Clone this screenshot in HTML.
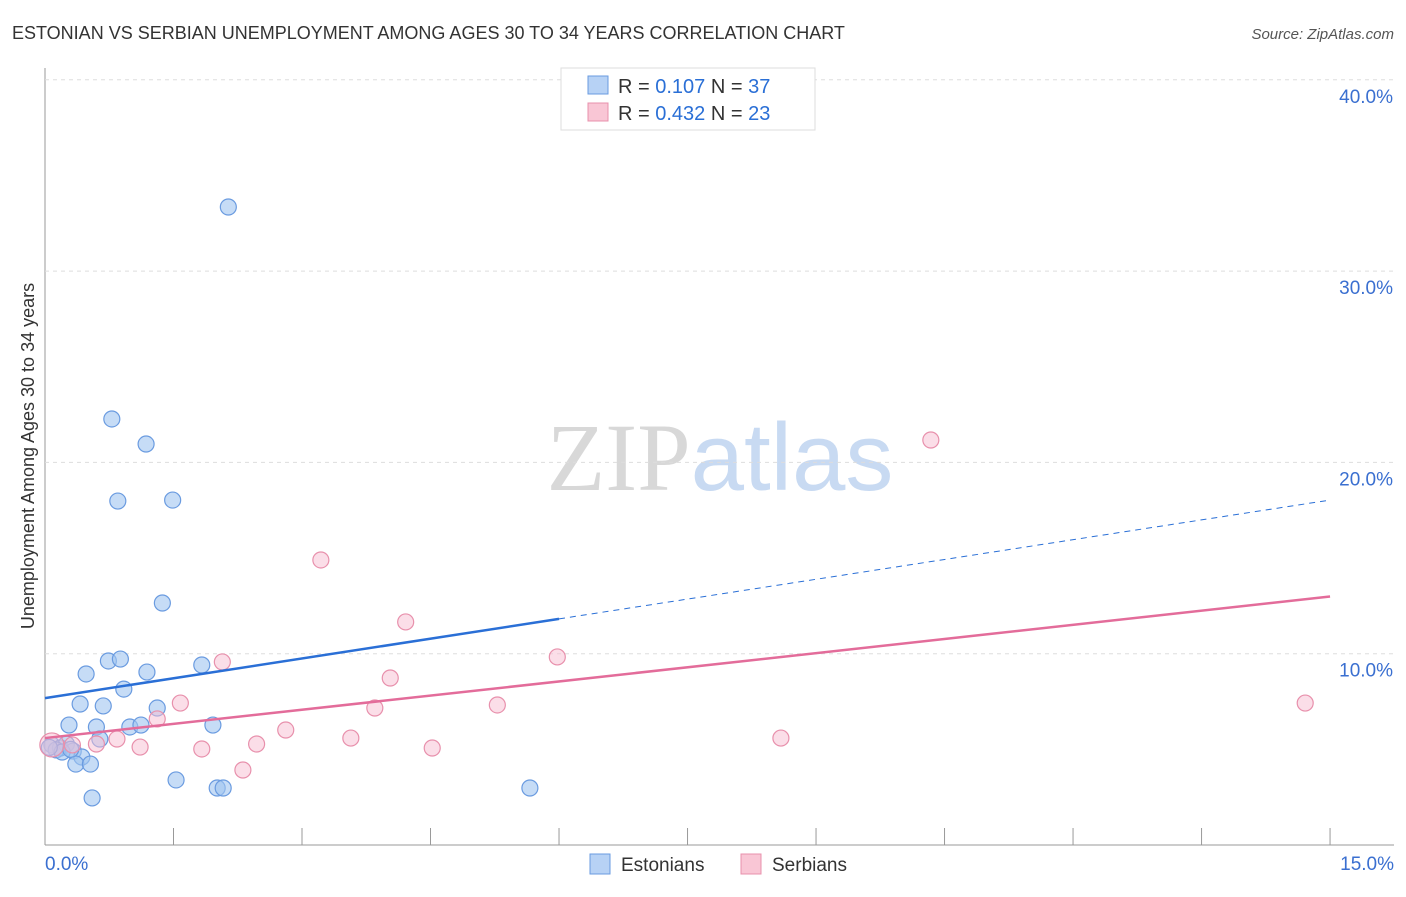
<!DOCTYPE html>
<html><head><meta charset="utf-8"><style>
body{margin:0;background:#fff;font-family:"Liberation Sans",sans-serif;}
svg text{font-family:"Liberation Sans",sans-serif;}
</style></head><body>
<svg width="1406" height="892" viewBox="0 0 1406 892" id="chart">
<text x="12" y="39" font-size="18" fill="#333">ESTONIAN VS SERBIAN UNEMPLOYMENT AMONG AGES 30 TO 34 YEARS CORRELATION CHART</text>
<text x="1394" y="39" font-size="15" fill="#555" text-anchor="end" font-style="italic">Source: ZipAtlas.com</text>
<text x="720" y="490" font-size="96" text-anchor="middle"><tspan fill="#d8d8d8" font-family="Liberation Serif">ZIP</tspan><tspan fill="#c8daf2">atlas</tspan></text>
<text transform="translate(34,456) rotate(-90)" font-size="18" fill="#333" text-anchor="middle">Unemployment Among Ages 30 to 34 years</text>
<g id="grid"></g><g id="marks"></g>
<g>
<rect x="561" y="68" width="254" height="62" fill="#fff" stroke="#ddd"/>
<rect x="588" y="76" width="20" height="18" fill="#b7d2f5" stroke="#6a9be0"/>
<text x="618" y="93" font-size="20" fill="#333">R = <tspan fill="#2a6fd6">0.107</tspan>   N = <tspan fill="#2a6fd6">37</tspan></text>
<rect x="588" y="103" width="20" height="18" fill="#f9c6d5" stroke="#e890ac"/>
<text x="618" y="120" font-size="20" fill="#333">R = <tspan fill="#2a6fd6">0.432</tspan>   N = <tspan fill="#2a6fd6">23</tspan></text>
</g>
<g>
<rect x="590" y="854" width="20" height="20" fill="#b7d2f5" stroke="#6a9be0"/>
<text x="621" y="871" font-size="19" fill="#333">Estonians</text>
<rect x="741" y="854" width="20" height="20" fill="#f9c6d5" stroke="#e890ac"/>
<text x="772" y="871" font-size="19" fill="#333">Serbians</text>
</g>
</svg>
<script>
const xTicks=[0,1.5,3,4.5,6,7.5,9,10.5,12,13.5,15];
const yTicks=[10,20,30,40];
const estX=[2.14,0.78,1.18,0.85,1.49,1.37,0.48,0.74,0.88,1.19,1.83,0.92,0.41,0.68,1.31,0.28,0.60,0.99,1.12,1.96,0.64,0.08,0.18,0.25,0.13,0.33,0.43,0.36,0.53,0.55,1.53,2.01,2.08,5.66,0.20,0.05,0.30];
const estY=[33.35,22.27,20.96,17.98,18.03,12.65,8.94,9.62,9.72,9.04,9.41,8.15,7.37,7.27,7.16,6.27,6.17,6.17,6.27,6.27,5.54,5.23,5.07,5.28,4.97,4.91,4.60,4.23,4.23,2.46,3.40,2.98,2.98,2.98,4.86,5.10,5.00];
const serX=[10.34,3.22,4.21,5.98,2.07,4.03,1.58,3.85,5.28,1.31,2.81,0.84,0.60,1.11,2.47,3.57,1.83,4.52,2.31,8.59,14.71,0.08,0.32];
const serY=[21.17,14.90,11.66,9.83,9.57,8.73,7.42,7.16,7.32,6.59,6.01,5.54,5.28,5.12,5.28,5.59,5.02,5.07,3.92,5.59,7.42,5.23,5.23];
const estTrend=[7.68,18.03];const serTrend=[5.59,12.99];
const xs=v=>45+v*85.67, ys=v=>845-v*19.13;
const NS="http://www.w3.org/2000/svg";
function mk(t,a,p){const e=document.createElementNS(NS,t);for(const k in a)e.setAttribute(k,a[k]);p.appendChild(e);return e;}
const g=document.getElementById('grid'),m=document.getElementById('marks');
let ax=mk('line',{x1:45,y1:68,x2:45,y2:845,stroke:'#999'},g);

let bx=mk('line',{x1:45,y1:845,x2:1394,y2:845,stroke:'#999'},g);

yTicks.forEach(v=>{let l=mk('line',{x1:45,x2:1394,y1:ys(v),y2:ys(v),stroke:'#ddd','stroke-dasharray':'4,4'},g);

let t=mk('text',{x:1393,y:ys(v)+23,'font-size':19,fill:'#3a6fd0','text-anchor':'end'},g);t.textContent=v.toFixed(1)+'%';
});
xTicks.forEach(v=>{let l=mk('line',{x1:xs(v),x2:xs(v),y1:828,y2:845,stroke:'#999'},g);
});
[[0,'0.0%','start',45],[15,'15.0%','end',1394]].forEach(a=>{let t=mk('text',{x:a[3],y:870,'font-size':19,fill:'#3a6fd0','text-anchor':a[2]},g);t.textContent=a[1];
});
estX.forEach((x,i)=>{let c=mk('circle',{cx:xs(x),cy:ys(estY[i]),r:8,fill:'rgba(160,196,240,0.6)',stroke:'#6a9be0','stroke-width':1.2},m);
});
serX.forEach((x,i)=>{let c=mk('circle',{cx:xs(x),cy:ys(serY[i]),r:i==21?12:8,fill:'rgba(248,190,210,0.5)',stroke:'#e890ac','stroke-width':1.2},m);
});
const ey=x=>estTrend[0]+(estTrend[1]-estTrend[0])*x/15;
let l1=mk('line',{x1:xs(0),y1:ys(ey(0)),x2:xs(6.0),y2:ys(ey(6.0)),stroke:'#2a6fd6','stroke-width':2.5},m);

let l2=mk('line',{x1:xs(6.0),y1:ys(ey(6.0)),x2:xs(14.98),y2:ys(ey(14.98)),stroke:'#2a6fd6','stroke-width':1,'stroke-dasharray':'6,5'},m);

let l3=mk('line',{x1:xs(0),y1:ys(serTrend[0]),x2:xs(15),y2:ys(serTrend[1]),stroke:'#e36c9a','stroke-width':2.5},m);

</script>
</body></html>
